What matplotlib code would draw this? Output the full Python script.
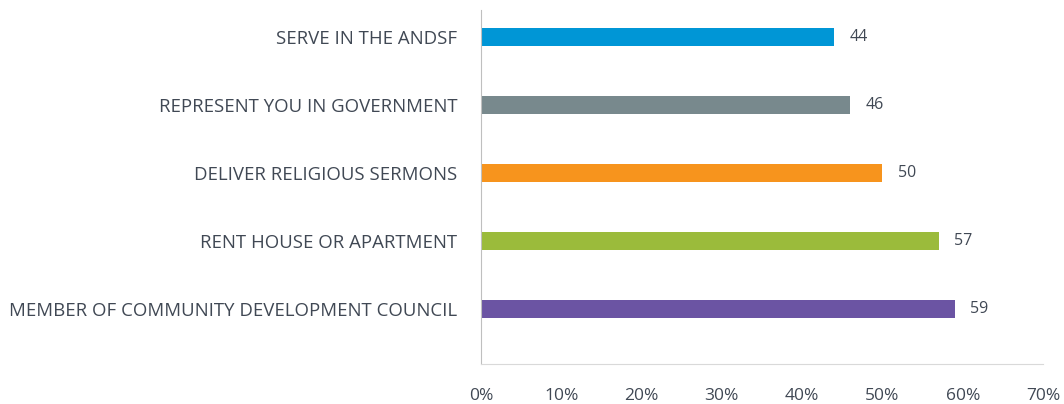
import matplotlib
matplotlib.use("Agg")
import matplotlib.pyplot as plt
from matplotlib.ticker import FuncFormatter

categories = ["SERVE IN THE ANDSF", "REPRESENT YOU IN GOVERNMENT",
              "DELIVER RELIGIOUS SERMONS", "RENT HOUSE OR APARTMENT",
              "MEMBER OF COMMUNITY DEVELOPMENT COUNCIL"]
values = [44, 46, 50, 57, 59]
colors = ["#0096D6", "#78898D", "#F7941D", "#9BBB3B", "#6B54A3"]
xticks = [0, 10, 20, 30, 40, 50, 60, 70]

plt.rcParams['font.family'] = ['Open Sans', 'DejaVu Sans']
textc = "#404854"

fig = plt.figure(figsize=(10.64, 4.04), dpi=100)
ax = fig.add_axes([481/1064, 1-364/404, (1043-481)/1064, 354/404])
ypos = list(range(len(categories)))
ax.barh(ypos, values, height=0.265, color=colors)
for y, v in zip(ypos, values):
    ax.annotate(str(v), (v, y), xytext=(11, 0), textcoords="offset points",
                va="center", ha="left", fontsize=11.5, color=textc)
ax.set_xlim(0, 70)
ax.set_ylim(4.81, -0.40)
ax.set_yticks(ypos)
ax.set_yticklabels(categories, fontsize=13.4, color=textc)
ax.set_xticks(xticks)
ax.xaxis.set_major_formatter(FuncFormatter(lambda x, p: f"{int(x)}%"))
ax.tick_params(axis="x", labelsize=12.5, colors=textc, length=0, pad=17)
ax.tick_params(axis="y", length=0, pad=17)
for s in ["top", "right"]:
    ax.spines[s].set_visible(False)
ax.spines["left"].set_color("#BFBFBF")
ax.spines["bottom"].set_color("#D9D9D9")
fig.savefig("out.png", dpi=100)
